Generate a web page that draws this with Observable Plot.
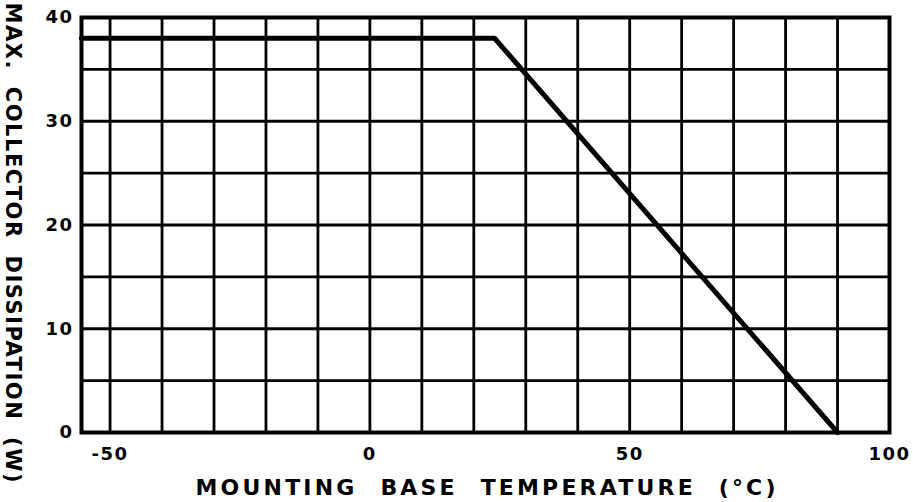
<!DOCTYPE html>
<html><head><meta charset="utf-8">
<script src="https://cdn.jsdelivr.net/npm/d3@7"></script>
<script src="https://cdn.jsdelivr.net/npm/@observablehq/plot@0.6"></script>
<style>
body{margin:0;background:#fff}
#chart svg [aria-label="x-axis tick label"] text,
#chart svg [aria-label="y-axis tick label"] text{letter-spacing:1.5px}
</style>
</head><body><div id="chart"></div>
<script>
// Derating curve
const temperature = [-55.5, 24, 90];
const dissipation = [38, 38, 0];
// Axes
const xDomain = [-55.5, 100];
const yDomain = [0, 40];
const xTicks = [-50, 0, 50, 100];
const yTicks = [0, 10, 20, 30, 40];
const xGrid = [-50, -40, -30, -20, -10, 0, 10, 20, 30, 40, 50, 60, 70, 80, 90];
const yGrid = [5, 10, 15, 20, 25, 30, 35];
const xTitle = "MOUNTING BASE TEMPERATURE (°C)";
const yTitle = "MAX. COLLECTOR DISSIPATION (W)";

const curve = temperature.map((t, i) => ({t, w: dissipation[i]}));

const chart = Plot.plot({
  width: 913,
  height: 502,
  marginLeft: 81,
  marginRight: 24,
  marginTop: 17,
  marginBottom: 70,
  style: {fontFamily: "DejaVu Sans", fontWeight: "bold", fontSize: "16px", color: "#000", background: "#fff"},
  x: {domain: xDomain},
  y: {domain: yDomain},
  marks: [
    Plot.ruleX(xGrid, {stroke: "#000", strokeWidth: 2.8}),
    Plot.ruleY(yGrid, {stroke: "#000", strokeWidth: 2.8}),
    Plot.frame({stroke: "#000", strokeWidth: 4}),
    Plot.line(curve, {x: "t", y: "w", stroke: "#000", strokeWidth: 5, strokeLinejoin: "miter"}),
    Plot.axisX({ticks: xTicks, tickSize: 0, tickPadding: 15, label: null, fontSize: 18, tickFormat: d => String(d)}),
    Plot.axisY({ticks: yTicks, tickSize: 0, tickPadding: 8, label: null, fontSize: 18}),
    Plot.text([xTitle], {frameAnchor: "bottom", textAnchor: "middle", dy: 62, fontSize: 22}),
    Plot.text([yTitle], {frameAnchor: "left", textAnchor: "middle", rotate: 90, dx: -69, dy: 17.5, fontSize: 21})
  ]
});
document.getElementById("chart").appendChild(chart);
d3.select(chart).selectAll("text").each(function() {
  const t = this.textContent;
  if (t === xTitle) {
    d3.select(this).style("word-spacing", "12px").attr("textLength", 580).attr("lengthAdjust", "spacing");
  } else if (t === yTitle) {
    d3.select(this).style("word-spacing", "8px").attr("textLength", 480).attr("lengthAdjust", "spacing");
  }
});
</script>
</body></html>
